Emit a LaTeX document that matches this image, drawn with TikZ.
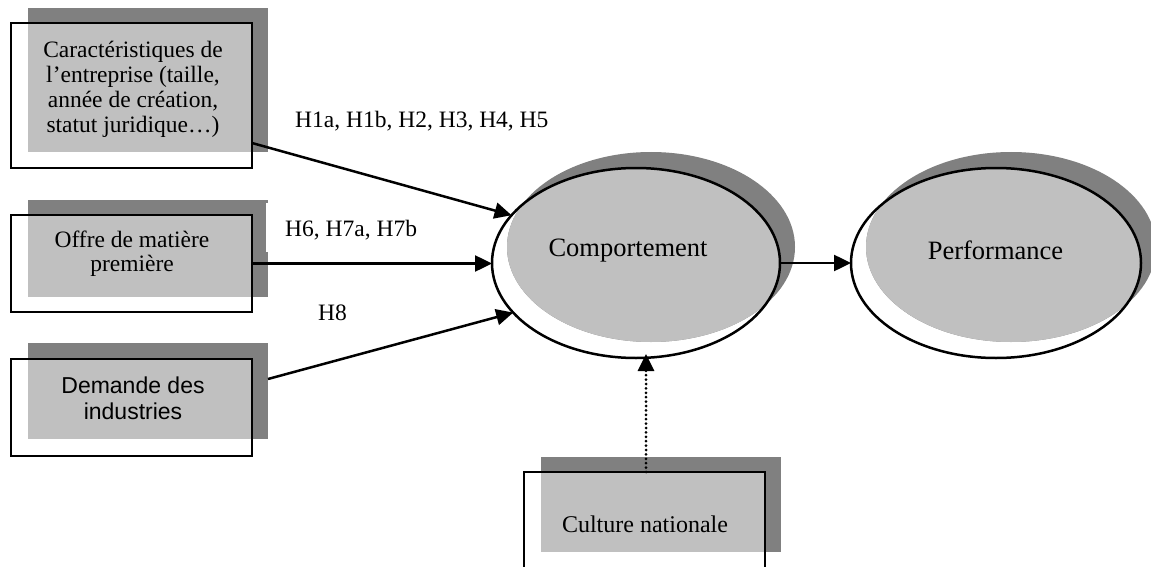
\documentclass[tikz,border=0pt]{standalone}
\usepackage{fontspec}
\setmainfont{Liberation Serif}
\newfontfamily\arialf{Liberation Sans}
\usetikzlibrary{shapes.geometric,arrows.meta}
\definecolor{shadowgray}{HTML}{808080}
\definecolor{fillgray}{HTML}{C0C0C0}
\begin{document}
\begin{tikzpicture}[x=1pt,y=-1pt,
  outl/.style={draw=black,line width=2.5pt,inner sep=0pt,outer sep=0pt},
  boxo/.style={outl,rectangle,anchor=north west,minimum width=241pt,minimum height=97pt},
  shad/.style={fill=shadowgray},
  lite/.style={fill=fillgray},
  arr/.style={line width=2.5pt,-{Triangle[length=17pt,width=16pt]}},
  dotarr/.style={line width=3pt,line cap=round,dash pattern=on 0pt off 4.4pt,-{Triangle[length=17pt,width=16pt]}},
  txt/.style={font=\fontsize{23.5}{25}\selectfont,align=center,inner sep=0pt,anchor=base},
  lbl/.style={font=\fontsize{23.5}{25}\selectfont,inner sep=0pt,anchor=base west},
  etxt/.style={font=\fontsize{26.5}{28}\selectfont,inner sep=0pt,anchor=base}]
\useasboundingbox (0,0) rectangle (1151,567);
\clip (0,0) rectangle (1151,567);

% Box 1
\fill[shad] (28,8) rectangle (268,152);
\fill[lite] (28,23) rectangle (252,152);
\node[boxo,minimum height=145pt] (b1) at (11,23) {};
\node[txt] (t1) at (133,132.5) {Caractéristiques de\\l’entreprise (taille,\\année de création,\\statut juridique…)};

% Box 2
\fill[shad] (28,200) rectangle (268,297);
\fill[lite] (28,215) rectangle (252,297);
\node[boxo] (b2) at (11,215) {};
\node[txt,font=\fontsize{23.5}{24}\selectfont] (t2) at (132,271) {Offre de matière\\première};

% Box 3
\node[shad,inner sep=0pt,outer sep=0pt,anchor=north west,minimum width=240pt,minimum height=96pt] (s3) at (28,343) {};
\fill[lite] (28,359) rectangle (252,439);
\node[boxo] (b3) at (11,359) {};
\node[txt,font=\arialf\fontsize{23}{26}\selectfont] (t3) at (133,419) {Demande des\\industries};

% Box 4
\fill[shad] (541,457) rectangle (781,552);
\fill[lite] (541,472) rectangle (765,552);
\node[boxo] (b4) at (524,472) {};
\node[txt,font=\fontsize{24}{26}\selectfont] (t4) at (645,532) {Culture nationale};

% Ellipse Comportement
\fill[shad] (651,247) ellipse [x radius=144pt, y radius=95pt];
\begin{scope}
  \clip (636,263) ellipse [x radius=144pt, y radius=95pt];
  \fill[lite] (651,247) ellipse [x radius=144pt, y radius=95pt];
\end{scope}
\node[outl,ellipse,minimum width=288pt,minimum height=190pt] (c) at (636,263) {};
\node[etxt] (tc) at (628,256) {Comportement};

% Ellipse Performance
\fill[shad] (1011,247) ellipse [x radius=145pt, y radius=95pt];
\begin{scope}
  \clip (996,263) ellipse [x radius=145pt, y radius=95pt];
  \fill[lite] (1011,247) ellipse [x radius=145pt, y radius=95pt];
\end{scope}
\node[outl,ellipse,minimum width=290pt,minimum height=190pt] (p) at (996,263) {};
\node[etxt] (tp) at (995.5,259) {Performance};

% Labels
\node[lbl] (l1) at (295,128) {H1a, H1b, H2, H3, H4, H5};
\fill[white] (265.5,203) rectangle (430,252);
\node[lbl] (l2) at (285,236) {H6, H7a, H7b};
\node[lbl] (l3) at (318,320) {H8};

% Connectors
\draw[arr] ([yshift=-47.5pt]b1.east) -- (c.159);
\draw[arr] (b2.east) -- (b2.east -| c.west);
\draw[arr] ([yshift=12pt]s3.east) -- (c.202);
\draw[arr] (c.east) -- (p.west);
\draw[dotarr] ([xshift=1.5pt]b4.north) -- ([xshift=10pt,yshift=4pt]c.south);
\end{tikzpicture}
\end{document}
